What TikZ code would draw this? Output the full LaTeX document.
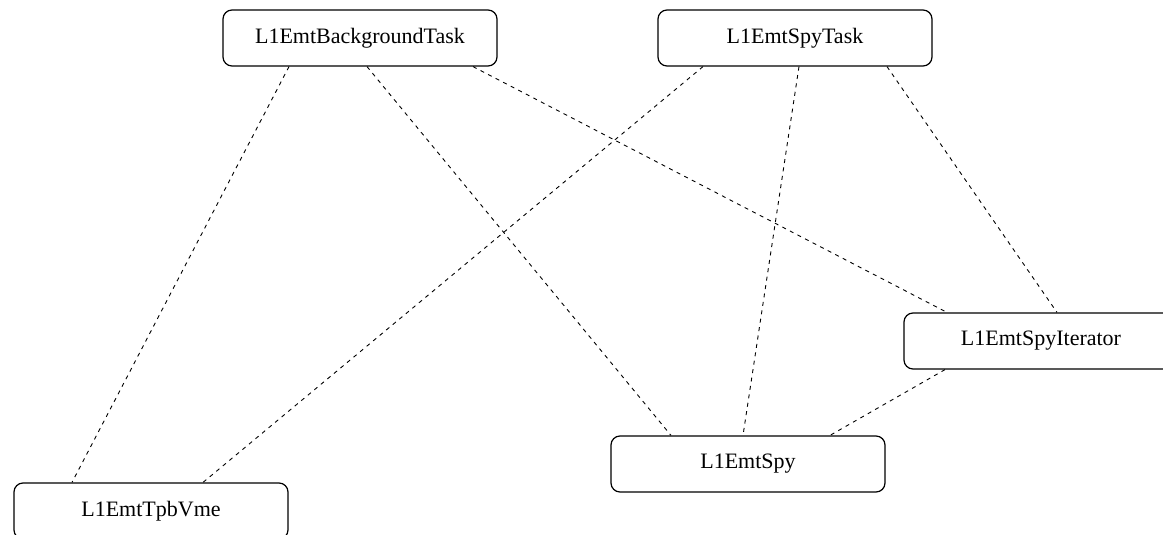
\documentclass[tikz,border=0pt]{standalone}
\usepackage{fontspec}
\setmainfont{Liberation Serif}
\begin{document}
\begin{tikzpicture}[x=1pt,y=-1pt,
  cls/.style={draw,line width=1.2pt,rounded corners=9pt,minimum width=274pt,minimum height=56pt,inner sep=0pt,font=\fontsize{22}{26}\selectfont},
  link/.style={line width=0.9pt,dash pattern=on 4pt off 4.5pt}]
\useasboundingbox (0,0) rectangle (1163,535);
\node[cls] (bg) at (360,38) {L1EmtBackgroundTask};
\node[cls] (st) at (795,38) {L1EmtSpyTask};
\node[cls] (it) at (1041,341) {L1EmtSpyIterator};
\node[cls] (sp) at (748,464) {L1EmtSpy};
\node[cls] (tv) at (151,511) {L1EmtTpbVme};
\draw[link] ([xshift=-71pt]bg.south) -- ([xshift=-79pt]tv.north);
\draw[link] ([xshift=7pt]bg.south) -- ([xshift=-77pt]sp.north);
\draw[link] ([xshift=113pt]bg.south) -- ([xshift=-94pt]it.north);
\draw[link] ([xshift=-92pt]st.south) -- ([xshift=52pt]tv.north);
\draw[link] ([xshift=4pt]st.south) -- ([xshift=-5pt]sp.north);
\draw[link] ([xshift=92pt]st.south) -- ([xshift=16pt]it.north);
\draw[link] ([xshift=-96pt]it.south) -- ([xshift=82pt]sp.north);
\end{tikzpicture}
\end{document}
